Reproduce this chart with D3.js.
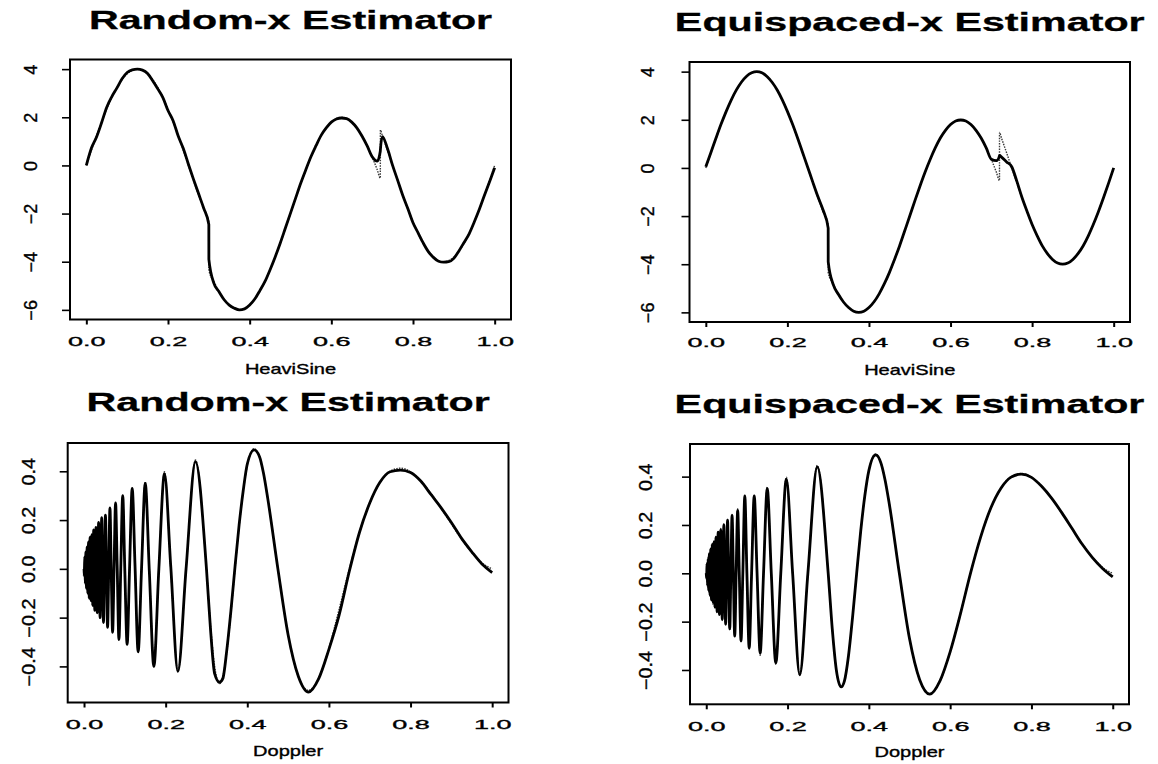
<!DOCTYPE html>
<html>
<head>
<meta charset="utf-8">
<script src="https://cdn.jsdelivr.net/npm/d3@7"></script>
<style>
  html, body { margin: 0; padding: 0; background: #fff; }
  svg { display: block; }
  text { font-family: "Liberation Sans", Arial, Helvetica, sans-serif; fill: #000; }
</style>
</head>
<body>
<svg id="fig" width="1158" height="764"></svg>
<script>
// ---- HeaviSine: sample positions, true curve and the two estimates ----
const hsX = [0, .0125, .025, .0375, .05, .0625, .075, .0875, .1, .1125, .125, .1375, .15, .1625, .175, .1875, .2, .2125, .225, .2375, .25, .2625, .275, .2875, .3,
  .3001,
  .3125, .325, .3375, .35, .3625, .375, .3875, .4, .4125, .425, .4375, .45, .4625, .475, .4875, .5, .5125, .525, .5375, .55, .5625, .575, .5875, .6, .6125, .625, .6375, .65, .6625, .675, .6875, .7, .7125,
  .72, .7201, .725, .7375,
  .75, .7625, .775, .7875, .8, .8125, .825, .8375, .85, .8625, .875, .8875, .9, .9125, .925, .9375, .95, .9625, .975, .9875, 1];

const hsTrue = [0, 0.626, 1.236, 1.816, 2.351, 2.828, 3.236, 3.564, 3.804, 3.951, 4, 3.951, 3.804, 3.564, 3.236, 2.828, 2.351, 1.816, 1.236, 0.626, 0, -0.626, -1.236, -1.816, -2.351,
  -4.351,
  -4.828, -5.236, -5.564, -5.804, -5.951, -6, -5.951, -5.804, -5.564, -5.236, -4.828, -4.351, -3.816, -3.236, -2.626, -2, -1.374, -0.764, -0.184, 0.351, 0.828, 1.236, 1.564, 1.804, 1.951, 2, 1.951, 1.804, 1.564, 1.236, 0.828, 0.351, -0.184,
  -0.527, 1.473, 1.236, 0.626,
  0, -0.626, -1.236, -1.816, -2.351, -2.828, -3.236, -3.564, -3.804, -3.951, -4, -3.951, -3.804, -3.564, -3.236, -2.828, -2.351, -1.816, -1.236, -0.626, 0];

const hsRandomEst = [0, 0.72, 1.18, 1.78, 2.42, 2.86, 3.22, 3.60, 3.86, 3.97, 4.0, 3.96, 3.82, 3.52, 3.18, 2.82, 2.28, 1.86, 1.22, 0.70, 0.05, -0.58, -1.18, -1.78, -2.45,
  -3.9,
  -4.90, -5.25, -5.58, -5.80, -5.93, -6.0, -5.96, -5.80, -5.55, -5.20, -4.82, -4.33, -3.80, -3.22, -2.60, -1.98, -1.36, -0.74, -0.18, 0.36, 0.82, 1.25, 1.56, 1.80, 1.93, 1.97, 1.94, 1.80, 1.56, 1.22, 0.82, 0.36, 0.18,
  0.60, 0.65, 1.20, 0.70,
  0.0, -0.62, -1.25, -1.80, -2.38, -2.80, -3.22, -3.58, -3.82, -3.98, -4.02, -4.0, -3.86, -3.55, -3.20, -2.84, -2.35, -1.82, -1.24, -0.68, -0.10];

const hsEquiEst = [0.05, 0.64, 1.24, 1.82, 2.35, 2.83, 3.24, 3.57, 3.81, 3.95, 4.0, 3.95, 3.80, 3.56, 3.24, 2.83, 2.35, 1.82, 1.24, 0.63, 0.02, -0.60, -1.20, -1.75, -2.50,
  -3.9,
  -4.85, -5.25, -5.57, -5.80, -5.95, -6.0, -5.95, -5.80, -5.56, -5.23, -4.82, -4.35, -3.81, -3.24, -2.62, -2.0, -1.37, -0.76, -0.18, 0.35, 0.83, 1.24, 1.56, 1.80, 1.95, 1.99, 1.95, 1.80, 1.56, 1.24, 0.83, 0.36, 0.30,
  0.50, 0.52, 0.45, 0.25,
  0.05, -0.55, -1.22, -1.80, -2.35, -2.82, -3.24, -3.56, -3.80, -3.95, -4.0, -3.95, -3.80, -3.56, -3.24, -2.83, -2.35, -1.82, -1.24, -0.63, 0.0];

// ---- Doppler: sample positions (zero crossings and turning points near 0), true curve and estimates ----
const dopX = [0, 0.0006, 0.00122, 0.00185, 0.0025, 0.00316, 0.00385, 0.00455, 0.00526, 0.006, 0.00676, 0.00753, 0.00833, 0.00915, 0.01, 0.01087, 0.01176, 0.01269, 0.01364, 0.01462,
  0.01563, 0.01667, 0.01774, 0.01885, 0.02, 0.02119, 0.02241, 0.02368, 0.025, 0.02636, 0.02778, 0.02925, 0.03077, 0.03235, 0.034, 0.03571, 0.0375, 0.03936, 0.0413, 0.0433,
  0.04545, 0.0477, 0.05, 0.0524, 0.055, 0.0577, 0.06053, 0.0635, 0.06667, 0.07, 0.07353, 0.0773, 0.08125, 0.0855, 0.09, 0.0948, 0.1, 0.1056, 0.11154, 0.118,
  0.125, 0.1326, 0.14091, 0.15, 0.16, 0.1711, 0.18333, 0.1971, 0.2125, 0.23, 0.25, 0.2731, 0.3,
  0.31, 0.32, 0.3318, 0.34, 0.35, 0.36, 0.37, 0.38, 0.39, 0.40, 0.4167, 0.43, 0.44, 0.45, 0.475, 0.5, 0.525, 0.55, 0.575, 0.6,
  0.625, 0.65, 0.675, 0.7, 0.725, 0.75, 0.775, 0.8, 0.825, 0.85, 0.875, 0.9, 0.925, 0.95, 0.975, 1.0];

const dopTrue = [0, -0.025, 0, 0.043, 0, -0.056, 0, 0.067, 0, -0.077, 0, 0.087, 0, -0.095, 0, 0.104, 0, -0.112, 0, 0.120,
  0, -0.128, 0, 0.136, 0, -0.144, 0, 0.152, 0, -0.160, 0, 0.169, 0, -0.177, 0, 0.186, 0, -0.195, 0, 0.204,
  0, -0.213, 0, 0.223, 0, -0.233, 0, 0.244, 0, -0.255, 0, 0.267, 0, -0.280, 0, 0.293, 0, -0.307, 0, 0.323,
  0, -0.339, 0, 0.357, 0, -0.377, 0, 0.398, 0, -0.421, 0, 0.446, 0,
  -0.231, -0.399, -0.471, -0.443, -0.337, -0.180, 0, 0.174, 0.319, 0.424, 0.493, 0.457, 0.388, 0.292, 0, -0.270, -0.442, -0.498, -0.447, -0.325,
  -0.166, 0, 0.151, 0.269, 0.353, 0.400, 0.413, 0.398, 0.361, 0.309, 0.248, 0.184, 0.122, 0.067, 0.024, 0];

const dopRandomEst = [0, -0.03, 0.01, 0.05, -0.01, -0.06, 0.01, 0.07, -0.01, -0.08, 0.01, 0.09, 0, -0.10, 0.01, 0.11, -0.01, -0.12, 0, 0.13,
  0.01, -0.13, 0, 0.14, -0.01, -0.15, 0, 0.16, 0.01, -0.17, 0, 0.17, -0.01, -0.18, 0, 0.19, 0.01, -0.20, 0, 0.21,
  -0.01, -0.22, 0, 0.22, 0.01, -0.24, 0, 0.25, -0.01, -0.26, 0, 0.27, 0.01, -0.29, 0, 0.30, -0.01, -0.31, 0, 0.33,
  0.01, -0.34, 0, 0.35, -0.01, -0.40, 0, 0.39, 0.01, -0.42, 0, 0.44, 0,
  -0.25, -0.43, -0.465, -0.45, -0.33, -0.17, 0.01, 0.18, 0.32, 0.43, 0.488, 0.46, 0.39, 0.29, 0.0, -0.27, -0.44, -0.505, -0.45, -0.33,
  -0.19, -0.01, 0.15, 0.27, 0.355, 0.398, 0.405, 0.395, 0.36, 0.305, 0.25, 0.19, 0.125, 0.07, 0.02, -0.015];

const dopEquiEst = [0, -0.02, 0, 0.04, 0, -0.05, 0, 0.06, 0, -0.07, 0, 0.08, 0, -0.09, 0, 0.10, 0, -0.11, 0, 0.12,
  0, -0.12, 0, 0.13, 0, -0.14, 0, 0.15, 0, -0.16, 0, 0.17, 0, -0.17, 0, 0.18, 0, -0.19, 0, 0.20,
  0, -0.21, 0, 0.22, 0, -0.23, 0, 0.24, 0, -0.26, 0, 0.26, 0, -0.28, 0, 0.32, 0, -0.31, 0, 0.32,
  0, -0.33, 0, 0.35, 0, -0.37, 0, 0.39, 0, -0.42, 0, 0.44, 0,
  -0.23, -0.40, -0.47, -0.445, -0.34, -0.18, 0, 0.175, 0.32, 0.425, 0.49, 0.455, 0.385, 0.29, 0, -0.27, -0.44, -0.50, -0.445, -0.325,
  -0.17, 0, 0.15, 0.27, 0.352, 0.398, 0.41, 0.397, 0.36, 0.31, 0.25, 0.185, 0.12, 0.065, 0.02, -0.015];

// ---- tick values and labels ----
const xTicks = [0, 0.2, 0.4, 0.6, 0.8, 1.0];
const hsYTicks = [4, 2, 0, -2, -4, -6];
const dopYTicks = [0.4, 0.2, 0.0, -0.2, -0.4];
const panelTitles = ["Random-x Estimator", "Equispaced-x Estimator", "Random-x Estimator", "Equispaced-x Estimator"];
const xLabels = ["HeaviSine", "HeaviSine", "Doppler", "Doppler"];

const svg = d3.select("#fig");
const INK = 0.35; // slight outline on lettering so it reads as heavy as the printed figure

function drawPanel(p) {
  const x = d3.scaleLinear().domain([-0.04, 1.04]).range([p.left, p.right]);
  const y = d3.scaleLinear().domain(p.yDomain).range([p.bottom, p.top]);
  const g = svg.append("g");
  const cx = (p.left + p.right) / 2;

  // title
  g.append("text")
    .attr("x", 0).attr("y", 0)
    .attr("transform", `translate(${cx},${p.titleY}) scale(1.65,1)`)
    .attr("text-anchor", "middle")
    .attr("font-size", 25).attr("font-weight", "bold")
    .attr("stroke", "#000").attr("stroke-width", 0.3)
    .text(p.title);

  // x axis
  const xa = g.append("g")
    .attr("transform", `translate(0,${p.bottom})`)
    .call(d3.axisBottom(x).tickValues(xTicks).tickSize(5).tickSizeOuter(0).tickFormat(d3.format(".1f")));
  xa.select(".domain").remove();
  xa.selectAll(".tick line").attr("stroke", "#000").attr("stroke-width", 2);
  xa.selectAll(".tick text")
    .attr("y", 0).attr("dy", 0)
    .attr("transform", `translate(0,${p.xTickLabelDy}) scale(2.0,1)`)
    .attr("dominant-baseline", "central")
    .attr("font-size", 13.5).attr("font-family", "Liberation Sans, Arial, sans-serif")
    .attr("stroke", "#000").attr("stroke-width", INK)
    .attr("fill", "#000");

  // y axis, labels turned parallel to the axis
  const ya = g.append("g")
    .attr("transform", `translate(${p.left},0)`)
    .call(d3.axisLeft(y).tickValues(p.yTicks).tickSize(8).tickSizeOuter(0).tickFormat(p.yFmt));
  ya.select(".domain").remove();
  ya.selectAll(".tick line").attr("stroke", "#000").attr("stroke-width", 1.6);
  ya.selectAll(".tick text")
    .attr("x", 0).attr("y", 0).attr("dy", 0)
    .attr("text-anchor", "middle")
    .attr("dominant-baseline", "central")
    .attr("transform", `translate(${-p.yLabelOffset},0) rotate(-90) scale(${p.yLabelSquash},1)`)
    .attr("font-size", p.yLabelSize).attr("font-family", "Liberation Sans, Arial, sans-serif")
    .attr("stroke", "#000").attr("stroke-width", INK)
    .attr("fill", "#000");

  // axis title
  g.append("text")
    .attr("transform", `translate(${cx},${p.xLabelY}) scale(1.38,1)`)
    .attr("text-anchor", "middle").attr("dominant-baseline", "central")
    .attr("font-size", 14.5)
    .attr("stroke", "#000").attr("stroke-width", INK)
    .text(p.xLabel);

  // curves: true function dotted, estimate solid on top
  const idx = d3.range(p.xs.length);
  const line = ys => d3.line().curve(d3.curveMonotoneX)
    .x(i => x(p.xs[i])).y(i => y(ys[i]))(idx);
  g.append("path").attr("d", line(p.truth))
    .attr("fill", "none").attr("stroke", "#3a3a3a").attr("stroke-width", 1.4)
    .attr("stroke-dasharray", "1.5,1.2");
  g.append("path").attr("d", line(p.est))
    .attr("fill", "none").attr("stroke", "#000").attr("stroke-width", 2.8)
    .attr("stroke-linejoin", "round");

  // plot frame
  g.append("rect")
    .attr("x", p.left).attr("y", p.top)
    .attr("width", p.right - p.left).attr("height", p.bottom - p.top)
    .attr("fill", "none").attr("stroke", "#000").attr("stroke-width", 2);
}

const hsFmt = d3.format("d");
const dopFmt = d3.format(".1f");

drawPanel({ left: 70, right: 511, top: 59.5, bottom: 319.5, yDomain: [-6.4, 4.4], yTicks: hsYTicks, yFmt: hsFmt,
  yLabelOffset: 39, yLabelSize: 18, yLabelSquash: 1,
  title: panelTitles[0], titleY: 29, xTickLabelDy: 22, xLabelY: 369, xLabel: xLabels[0],
  xs: hsX, truth: hsTrue, est: hsRandomEst });

drawPanel({ left: 689.5, right: 1130, top: 62, bottom: 322, yDomain: [-6.4, 4.4], yTicks: hsYTicks, yFmt: hsFmt,
  yLabelOffset: 42, yLabelSize: 18, yLabelSquash: 1,
  title: panelTitles[1], titleY: 31, xTickLabelDy: 21, xLabelY: 370, xLabel: xLabels[1],
  xs: hsX, truth: hsTrue, est: hsEquiEst });

drawPanel({ left: 67.7, right: 508.5, top: 443, bottom: 702.5, yDomain: [-0.548, 0.516], yTicks: dopYTicks, yFmt: dopFmt,
  yLabelOffset: 39, yLabelSize: 18, yLabelSquash: 1.1,
  title: panelTitles[2], titleY: 411, xTickLabelDy: 22, xLabelY: 751, xLabel: xLabels[2],
  xs: dopX, truth: dopTrue, est: dopRandomEst });

drawPanel({ left: 690, right: 1129, top: 444, bottom: 704.3, yDomain: [-0.542, 0.535], yTicks: dopYTicks, yFmt: dopFmt,
  yLabelOffset: 44, yLabelSize: 18, yLabelSquash: 1.1,
  title: panelTitles[3], titleY: 413, xTickLabelDy: 22, xLabelY: 752, xLabel: xLabels[3],
  xs: dopX, truth: dopTrue, est: dopEquiEst });
</script>
</body>
</html>
